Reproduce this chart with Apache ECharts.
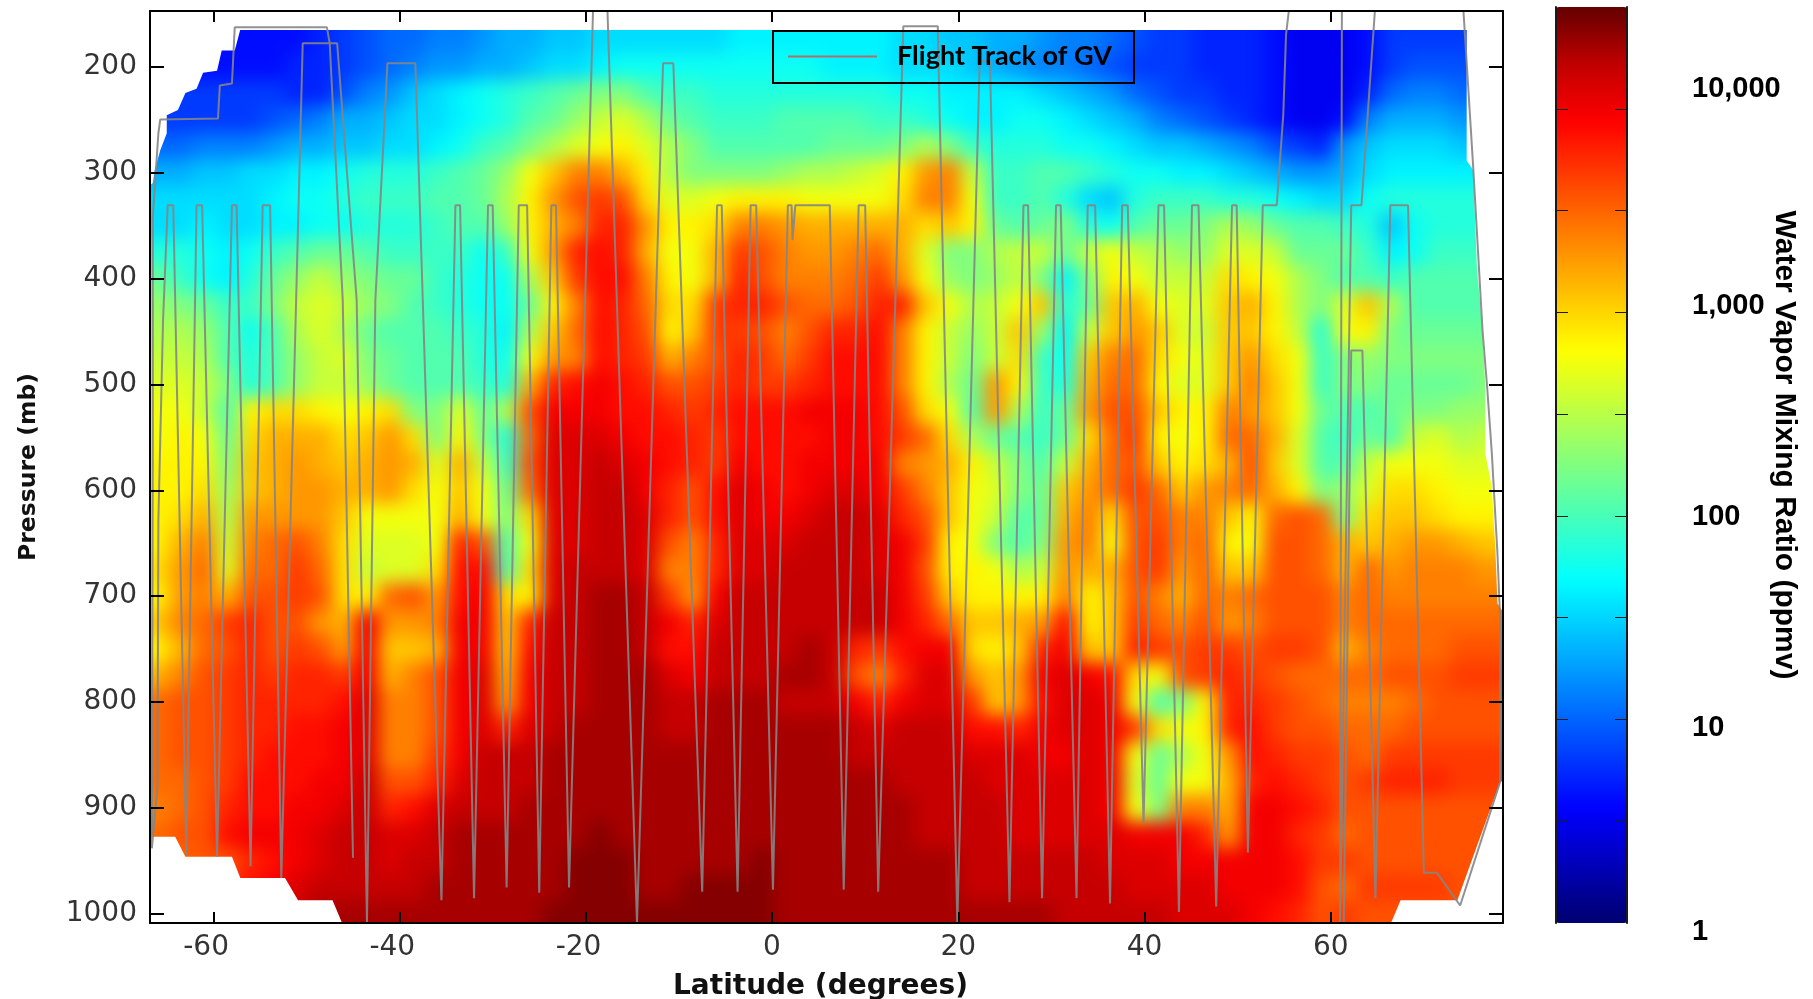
<!DOCTYPE html>
<html>
<head>
<meta charset="utf-8">
<title>Water Vapor Mixing Ratio</title>
<script src="https://cdn.jsdelivr.net/npm/echarts@6/dist/echarts.min.js"></script>
<style>
html, body { margin: 0; padding: 0; background: #fff; }
#main { width: 1813px; height: 999px; }
</style>
</head>
<body>
<div id="main"></div>
<script>
// cell centres of the curtain
var latCenters = [-66, -63.5, -61, -58.5, -56, -53.5, -51, -48.5, -46, -43.5,
	-41, -38.5, -36, -33.5, -31, -28.5, -26, -23.5, -21, -18.5,
	-16, -13.5, -11, -8.5, -6, -3.5, -1, 1.5, 4, 6.5,
	9, 11.5, 14, 16.5, 19, 21.5, 24, 26.5, 29, 31.5,
	34, 36.5, 39, 41.5, 44, 46.5, 49, 51.5, 54, 56.5,
	59, 61.5, 64, 66.5, 69, 71.5, 74, 76.5, 79];
var pressureLevels = [150, 175, 200, 225, 250, 275, 300, 325, 350, 375, 400, 425,
	450, 475, 500, 525, 550, 575, 600, 625, 650, 675, 700, 725, 750, 775, 800,
	825, 850, 875, 900, 925, 950, 975, 1000];

// 10*log10(ppmv), one row per pressure level
var mixRows = [
[6,6,6,6,6,6,6,7,8,9, 10,10,11,11,12,13,13,14,14,15, 15,15,15,15,15,16,16,16,16,16, 16,16,15,15,14,14,13,13,12,11, 11,10,9,8,8,7,7,7,6,5, 5,5,6,8,8,8,8,8,8],
[6,6,6,6,6,6,6,7,8,9, 10,10,11,11,12,13,13,14,14,15, 15,15,15,15,15,16,16,16,16,16, 16,16,15,15,14,14,13,13,12,11, 11,10,9,8,8,7,7,7,6,5, 5,5,6,8,8,8,8,8,8],
[6,6,6,6,6,6,7,7,8,9, 10,11,12,12,13,13,14,15,15,16, 17,17,17,17,17,17,17,17,17,16, 16,16,15,15,15,14,13,12,11,11, 10,9,8,8,8,7,7,7,6,5, 5,5,6,8,9,9,9,9,9],
[8,8,8,8,8,8,7,7,9,11, 12,14,15,16,17,18,19,20,21,22, 22,20,19,19,18,18,18,18,18,18, 18,18,17,17,16,16,16,16,15,14, 13,12,10,9,8,8,7,7,6,5, 5,5,7,10,11,11,10,10,10],
[8,8,8,8,8,9,10,11,13,13, 14,15,15,16,17,18,20,21,23,25, 26,24,21,20,19,19,19,20,20,20, 20,19,19,18,17,16,16,17,17,16, 15,14,13,11,10,9,8,7,6,5, 5,6,11,13,13,13,12,12,12],
[10,10,11,11,11,12,13,13,14,14, 15,15,16,17,19,20,22,24,26,27, 28,26,24,22,20,20,20,20,20,21, 21,21,22,24,22,19,18,18,18,17, 17,16,15,14,14,13,12,11,9,8, 7,12,14,15,15,15,14,14,14],
[13,13,14,14,15,15,16,16,17,18, 18,18,19,20,21,23,27,30,33,33, 31,28,24,22,22,22,22,23,24,24, 25,26,28,32,33,25,19,19,20,20, 19,18,17,17,16,16,15,14,13,12, 12,13,15,16,16,16,16,16,16],
[15,15,15,15,15,16,17,17,18,19, 19,19,20,20,21,24,28,32,35,36, 35,29,26,26,27,28,28,28,27,27, 27,27,29,33,33,27,19,19,20,18, 15,14,18,19,19,19,18,18,17,16, 15,15,17,18,18,18,18,18,18],
[15,15,16,15,15,16,16,17,17,18, 18,18,19,20,20,23,28,31,33,37, 37,32,28,28,29,33,33,32,31,31, 31,31,31,29,30,28,21,20,21,22, 18,17,20,21,21,22,24,23,21,20, 20,19,18,14,17,18,18,18,18],
[18,18,17,16,17,19,20,21,21,20, 19,19,19,19,17,19,27,32,37,38, 37,31,27,27,31,36,35,33,32,32, 33,34,31,26,22,22,24,25,25,21, 25,27,25,24,23,23,26,26,25,21, 21,21,19,16,17,19,19,19,19],
[21,19,17,16,18,21,23,25,23,22, 21,21,19,18,17,17,24,30,36,38, 38,33,28,27,31,37,35,33,33,33, 34,36,32,27,23,22,23,25,22,16, 22,28,27,25,25,25,29,28,27,24, 22,20,20,19,20,20,20,20,20],
[23,22,21,19,19,22,25,26,25,23, 22,20,19,18,17,17,21,28,33,38, 37,34,29,29,36,37,37,35,34,34, 35,37,37,30,27,24,25,27,30,18, 21,30,31,27,26,26,30,31,28,24, 22,26,30,24,20,20,20,20,20],
[24,24,23,20,17,20,24,26,24,21, 20,20,20,19,18,16,24,30,34,38, 37,35,28,30,36,36,35,33,35,37, 37,38,33,28,25,23,25,30,23,16, 25,30,32,30,26,25,30,30,28,25, 18,27,28,22,21,21,21,21,21],
[25,25,24,20,18,20,23,25,26,22, 21,20,20,20,18,17,27,32,33,38, 37,36,31,33,35,37,36,34,36,38, 38,38,33,28,25,22,25,29,19,17, 30,33,34,29,27,26,30,32,29,27, 19,22,23,22,22,22,22,22,22],
[26,26,25,22,18,20,23,25,25,23, 21,20,20,20,19,18,31,37,38,39, 38,37,35,35,36,37,36,36,37,38, 38,38,33,28,24,21,32,28,19,18, 31,34,34,28,26,26,30,33,30,27, 19,22,22,21,21,21,21,22,22],
[27,27,25,20,28,29,29,28,27,28, 29,22,22,26,21,24,35,39,39,39, 38,38,37,36,37,38,38,38,39,39, 39,38,35,29,27,20,32,24,19,21, 32,35,35,30,28,28,33,32,30,27, 21,20,20,21,22,22,23,23,23],
[27,28,27,21,29,31,31,31,29,30, 32,29,22,28,22,18,34,40,40,40, 39,38,38,37,36,38,38,38,38,39, 39,38,36,34,29,24,21,20,19,21, 29,34,36,28,27,28,34,34,31,26, 20,19,21,20,25,26,24,25,25],
[28,28,28,22,30,31,32,31,30,31, 32,31,26,31,25,19,35,40,40,41, 40,39,38,37,36,39,38,38,39,39, 39,39,33,32,31,28,25,22,20,25, 31,34,35,30,28,29,31,35,30,26, 20,20,25,27,27,27,26,26,26],
[28,28,29,23,30,31,32,32,31,31, 32,29,27,30,27,21,34,40,40,41, 41,39,37,35,38,40,39,38,39,40, 40,39,36,33,30,27,26,22,21,30, 32,34,36,34,30,32,33,34,31,28, 22,23,26,29,29,28,27,27,27],
[28,29,31,24,32,32,32,32,30,27, 27,27,27,31,27,22,29,40,40,41, 41,40,37,35,38,40,39,39,40,41, 41,40,37,35,30,27,25,20,21,31, 33,29,35,35,33,33,30,28,34,35, 34,22,29,30,30,29,28,28,28],
[28,31,33,25,33,34,35,33,29,26, 26,26,27,37,35,20,27,40,40,41, 41,40,35,33,37,40,40,40,41,41, 41,40,39,36,28,27,22,20,22,32, 33,27,35,36,33,34,28,27,35,35, 34,31,30,31,32,32,31,30,30],
[29,32,34,26,34,34,36,34,29,25, 26,26,29,38,38,20,29,40,41,41, 41,40,33,33,37,40,40,41,41,41, 41,40,39,35,28,28,27,24,25,32, 31,31,35,36,32,34,30,30,35,35, 34,31,34,32,33,33,33,32,32],
[28,32,33,31,35,35,36,35,29,28, 34,35,32,38,39,29,28,40,41,42, 42,41,36,32,39,41,41,41,41,41, 41,41,39,36,30,28,28,28,28,33, 28,30,35,33,31,34,33,34,35,35, 35,33,34,33,33,33,33,33,33],
[30,33,34,36,37,35,35,32,31,39, 32,32,33,39,39,30,37,41,41,42, 42,41,39,37,40,41,41,41,41,41, 41,41,39,37,34,30,30,31,32,38, 28,30,36,34,33,35,32,33,35,35, 35,33,34,34,34,34,34,34,34],
[28,31,34,35,37,35,36,35,32,39, 30,30,31,39,39,30,38,41,41,42, 42,41,38,38,41,41,41,41,42,41, 37,36,38,39,39,29,28,30,37,39, 30,30,37,36,35,36,36,35,36,36, 35,31,33,34,34,34,35,35,35],
[31,33,35,36,37,36,37,37,36,39, 31,33,35,39,40,31,39,41,41,42, 42,42,40,39,41,41,41,42,42,41, 35,33,37,40,40,32,30,32,39,40, 39,38,29,27,35,36,37,36,35,34, 34,34,34,35,35,35,36,36,36],
[34,35,35,36,37,37,37,37,38,40, 33,33,35,39,40,32,39,41,41,42, 42,42,41,41,42,42,42,41,41,41, 39,37,39,40,40,36,30,32,38,40, 40,39,27,20,22,28,37,37,36,35, 34,33,33,33,34,35,35,35,35],
[34,35,35,36,37,37,38,38,39,40, 33,33,35,39,40,37,40,41,42,42, 42,42,41,41,42,42,42,42,42,42, 41,40,41,41,41,38,38,37,39,40, 40,39,36,29,27,28,37,38,36,35, 35,34,34,34,35,35,35,35,35],
[34,35,35,36,37,38,38,38,39,40, 33,33,36,39,41,41,41,42,42,42, 42,42,42,42,42,42,42,42,42,42, 41,41,41,41,41,40,40,40,39,39, 40,39,27,21,24,27,32,38,37,36, 36,35,34,36,36,36,36,36,36],
[34,34,35,36,38,38,38,39,39,41, 35,35,37,40,41,41,41,42,42,42, 42,42,42,42,42,42,42,42,42,42, 42,42,41,41,41,41,40,40,40,40, 40,39,26,21,27,27,31,37,38,37, 36,35,36,37,37,37,36,36,36],
[33,34,35,37,38,38,39,39,40,41, 37,38,40,41,41,41,42,42,42,42, 42,42,42,42,42,42,42,42,42,42, 42,42,42,41,41,41,41,40,40,40, 40,39,27,22,33,33,31,39,39,38, 37,35,35,35,35,35,35,35,35],
[34,35,35,38,39,39,39,40,41,41, 40,40,41,42,42,42,42,42,42,43, 42,42,42,42,42,42,42,42,42,42, 42,42,42,41,41,41,41,40,40,40, 40,40,39,39,39,37,32,39,39,37, 36,34,35,35,35,35,35,35,35],
[34,34,35,35,37,38,39,40,41,41, 40,41,41,42,42,42,42,42,43,43, 43,42,42,42,42,42,43,42,42,42, 42,42,42,42,42,41,41,41,41,41, 41,40,40,40,39,39,39,39,39,38, 36,36,35,35,35,35,35,35,35],
[34,34,35,36,38,39,40,41,41,41, 41,41,42,42,42,42,42,42,43,43, 43,42,42,43,43,43,43,42,42,42, 42,42,42,42,42,41,41,41,41,41, 41,41,40,40,40,40,39,39,39,38, 35,34,36,36,36,36,35,35,35],
[35,35,36,37,39,40,41,42,42,42, 42,42,42,42,42,42,42,43,43,43, 43,43,43,43,43,43,43,42,42,42, 42,42,42,42,42,42,42,42,42,41, 41,41,41,41,40,40,40,39,38,37, 35,36,35,35,35,35,35,35,35]
];

// GV flight track, lat and pressure, null breaks between the legs
var trackLat = [-66.6, -66, -65.9, -65.4, -64.9, -64.3, -62.9, -61.8, -61.2, -59.6, -58, -57.5, -56, -54.7, -53.9, -52.7,
	-50.4, -46.7, -44.6, -43.5, -42.6, -41.3, -38.3, -35.5, -34, -33.5, -32, -30.5, -30, -28.5, -27.2, -26.3, -25, -23.7, -23.2, -21.8,
	-19.2, -17.7, -14.5, -11.7, -10.6, -7.5, -5.9, -5.4, -3.7, -2.3, -1.7, 0.1, 1.7, 2.1, 2.2, 2.5, 6.2, 7.7, 9.3, 10, 11.4,
	14.1, 17.8, 19.9, 22.3, 23.4, 25.5, 27, 27.5, 29, 30.5, 31, 32.7, 33.9, 34.7, 36.3, 37.6, 38.2, 39.9, 41.5, 42.1, 43.7, 45.1, 45.8, 47.7, 49.4, 49.9, 51.1,
	52.7, 54.2, 54.9, 55.2, 55.6, 61.2, 61, 62.2, 63.3, 64.8, 74.2, 75.3, 76.3, 76.8, 77.3, 77.9, 78.2, 78.2, 73.9, 71.4, 70, 68.3, 66.4, 64.8, 63.4, 62.2, 61.4,
	null,
	-66.6, -66.5, -66.5, -65.9, -65.7, -59.5, -59.3, -58, -57.7, -47.8, -47.5, -46.1, -45];
var trackP = [938, 880, 628, 440, 331, 331, 944, 331, 331, 946, 331, 331, 955, 331, 331, 966,
	178, 178, 421, 1008, 421, 197, 197, 987, 331, 331, 985, 331, 331, 975, 331, 331, 980, 331, 331, 975,
	140, 140, 1008, 197, 197, 979, 331, 331, 979, 331, 331, 977, 331, 331, 364, 331, 331, 977, 331, 331, 979,
	162, 162, 1008, 195, 195, 989, 331, 331, 985, 331, 331, 985, 331, 331, 990, 331, 331, 914, 331, 331, 998, 331, 331, 993, 331, 331, 942,
	331, 331, 246, 170, 140, 140, 1008, 331, 331, 140, 140, 295, 449, 503, 565, 659, 723, 875, 992, 961, 961, 331, 331, 985, 468, 468, 1008,
	null,
	938, 560, 342, 263, 250, 249, 218, 216, 163, 163, 178, 421, 947];

// outline of the area with no measurements
var noDataTop = [[-68, 146], [80, 146], [80, 165.5], [-68, 165.5]];
var noDataLeft = [[-68, 165], [-57.1, 165], [-57.7, 185], [-59.1, 185], [-59.6, 204], [-61.1, 206], [-61.8, 221], [-63, 225], [-63.8, 241], [-65, 246], [-65, 263], [-65.7, 279], [-66.3, 298], [-66.5, 310], [-68, 320]];
var noDataRight = [[74.6, 165], [74.6, 289], [75.3, 298], [75.7, 390], [76.3, 449], [76.6, 503], [76.6, 565], [77.3, 597], [77.7, 659], [77.9, 707], [78.6, 716], [80, 716], [80, 165]];
var noDataFootLeft = [[-68, 927], [-64.1, 927], [-63, 946], [-58, 946], [-57.1, 966], [-52.3, 966], [-50.9, 987], [-47.2, 987], [-46.1, 1010], [-68, 1010]];
var noDataFootRight = [[66.4, 1010], [67.5, 987], [73.6, 987], [78.2, 875], [80, 875], [80, 1010]];
var noDataAreas = [noDataTop, noDataLeft, noDataRight, noDataFootLeft, noDataFootRight];

var latTicks = [-60, -40, -20, 0, 20, 40, 60];
var pressureTicks = [200, 300, 400, 500, 600, 700, 800, 900, 1000];
var colorbarTicks = [1, 2, 3, 4, 5, 6, 7, 8];
var colorLabels = ['1', '10', '100', '1,000', '10,000'];
var colorLabelPos = [0, 0.97, 1.97, 2.97, 4];
var jet = ['#000070', '#0000b8', '#0000ff', '#0040ff', '#0080ff', '#00c0ff', '#00ffff', '#40ffc0', '#80ff80',
	'#c0ff40', '#ffff00', '#ffc000', '#ff8000', '#ff4000', '#ff0000', '#c00000', '#640000'];

var cellData = [];
for (var r = 0; r < pressureLevels.length; r++) {
	for (var c = 0; c < latCenters.length; c++) {
		cellData.push([latCenters[c], pressureLevels[r], mixRows[r][c]]);
	}
}
var trackData = [];
for (var t = 0; t < trackLat.length; t++) {
	trackData.push(trackLat[t] === null ? ['-', '-'] : [trackLat[t], trackP[t]]);
}

function renderCell(params, api) {
	var lat = api.value(0), p = api.value(1);
	// edge cells run past the frame so the soft layer does not fade there
	var west = lat - 1.25 - (lat === latCenters[0] ? 6 : 0);
	var east = lat + 1.25 + (lat === latCenters[latCenters.length - 1] ? 6 : 0);
	var south = p + 12.5 + (p === 1000 ? 50 : 0);
	var a = api.coord([west, p - 12.5]);
	var b = api.coord([east, south]);
	return {
		type : 'rect',
		shape : { x : a[0], y : a[1], width : b[0] - a[0] + 1, height : b[1] - a[1] + 1 },
		style : { fill : api.visual('color') }
	};
}

function renderNoData(params, api) {
	return {
		type : 'polygon',
		shape : { points : noDataAreas[params.dataIndex].map(function(pt) { return api.coord(pt); }) },
		style : { fill : '#ffffff' }
	};
}

var tickFont = { color : '#333', fontFamily : 'DejaVu Sans', fontSize : 28 };
function plain(v) { return String(v); }
// the minus sign hangs left of the tick in the original
function latLabel(v) { return v < 0 ? v + '\u00a0\u2009' : String(v); }

var option = {
	animation : false,
	backgroundColor : '#fff',
	grid : [
		{ left : 150, top : 11, width : 1353, height : 912, outerBoundsMode : 'none' },
		{ left : 1556, top : 7, width : 71, height : 916, outerBoundsMode : 'none' },
		{ left : 1556, top : 89, width : 71, height : 843, outerBoundsMode : 'none' }
	],
	xAxis : [ {
		gridIndex : 0, type : 'value', position : 'bottom', min : -66.8, max : 78.5, z : 5,
		name : 'Latitude (degrees)', nameLocation : 'middle', nameGap : 50,
		nameTextStyle : { fontFamily : 'DejaVu Sans', fontWeight : 'bold', fontSize : 28, color : '#111', padding : [0, 12, 0, 0] },
		axisLine : { onZero : false, lineStyle : { color : '#000', width : 2 } },
		axisTick : { inside : true, length : 11, customValues : latTicks, lineStyle : { color : '#000', width : 2 } },
		axisLabel : { customValues : latTicks, formatter : latLabel, margin : 11, color : tickFont.color, fontFamily : tickFont.fontFamily, fontSize : tickFont.fontSize },
		splitLine : { show : false }
	}, {
		gridIndex : 0, type : 'value', position : 'top', min : -66.8, max : 78.5, z : 5,
		axisLine : { onZero : false, lineStyle : { color : '#000', width : 2 } },
		axisTick : { inside : true, length : 11, customValues : latTicks, lineStyle : { color : '#000', width : 2 } },
		axisLabel : { show : false },
		splitLine : { show : false }
	}, {
		gridIndex : 1, type : 'value', show : false, min : 0, max : 1
	}, {
		gridIndex : 2, type : 'value', show : false, min : 0, max : 1
	} ],
	yAxis : [ {
		gridIndex : 0, type : 'value', position : 'left', inverse : true, min : 147.6, max : 1008.5, z : 5,
		name : 'Pressure (mb)', nameLocation : 'middle', nameGap : 109,
		nameTextStyle : { fontFamily : 'DejaVu Sans', fontWeight : 'bold', fontSize : 23.5, color : '#111' },
		axisLine : { onZero : false, lineStyle : { color : '#000', width : 2 } },
		axisTick : { inside : true, length : 14, customValues : pressureTicks, lineStyle : { color : '#000', width : 2 } },
		axisLabel : { customValues : pressureTicks, formatter : plain, margin : 13, color : tickFont.color, fontFamily : tickFont.fontFamily, fontSize : tickFont.fontSize },
		splitLine : { show : false }
	}, {
		gridIndex : 0, type : 'value', position : 'right', inverse : true, min : 147.6, max : 1008.5, z : 5,
		axisLine : { onZero : false, lineStyle : { color : '#000', width : 2 } },
		axisTick : { inside : true, length : 14, customValues : pressureTicks, lineStyle : { color : '#000', width : 2 } },
		axisLabel : { show : false },
		splitLine : { show : false }
	}, {
		gridIndex : 1, type : 'value', position : 'left', min : 0, max : 9, z : 5,
		axisLine : { onZero : false, lineStyle : { color : '#1a1a1a', width : 2 } },
		axisTick : { inside : true, length : 12, customValues : colorbarTicks, lineStyle : { color : '#1a1a1a', width : 1 } },
		axisLabel : { show : false },
		splitLine : { show : false }
	}, {
		gridIndex : 1, type : 'value', position : 'right', min : 0, max : 9, z : 5,
		axisLine : { onZero : false, lineStyle : { color : '#1a1a1a', width : 2 } },
		axisTick : { inside : true, length : 12, customValues : colorbarTicks, lineStyle : { color : '#1a1a1a', width : 1 } },
		axisLabel : { show : false },
		splitLine : { show : false }
	}, {
		gridIndex : 2, type : 'value', position : 'right', min : 0, max : 4, z : 5,
		axisLine : { show : false },
		axisTick : { show : false },
		axisLabel : {
			customValues : colorLabelPos, align : 'left', margin : 65,
			formatter : function(v, i) { return colorLabels[colorLabelPos.indexOf(v)]; },
			color : '#000', fontFamily : 'Liberation Sans', fontWeight : 'bold', fontSize : 29
		},
		splitLine : { show : false }
	} ],
	visualMap : {
		type : 'continuous', seriesIndex : 0, dimension : 2, min : 0, max : 44,
		left : 1556, top : 7, itemWidth : 71, itemHeight : 916, padding : 0,
		calculable : false, hoverLink : false, text : null, showLabel : false,
		inRange : { color : jet }
	},
	legend : {
		left : 773, top : 31, padding : [12, 22, 13, 15], itemWidth : 89, itemHeight : 27,
		borderColor : '#000', borderWidth : 2, borderRadius : 0,
		data : [ { name : 'Flight Track of GV', icon : 'path://M0,12H89V14H0Z', itemStyle : { color : '#b06e6c' } } ],
		textStyle : { color : '#000', fontFamily : 'Lato', fontWeight : 'bold', fontSize : 27, padding : [0, 0, 0, 15] },
		selectedMode : false
	},
	graphic : [ {
		type : 'text', x : 1784, y : 445, rotation : -Math.PI / 2,
		style : { text : 'Water Vapor Mixing Ratio (ppmv)', fill : '#000', font : 'bold 30px "Liberation Sans"', textAlign : 'center', textVerticalAlign : 'middle' }
	} ],
	series : [ {
		name : 'mixing ratio', type : 'custom', xAxisIndex : 0, yAxisIndex : 0, zlevel : -1,
		silent : true, clip : false, encode : { x : 0, y : 1 },
		renderItem : renderCell, data : cellData
	}, {
		name : 'no data', type : 'custom', xAxisIndex : 0, yAxisIndex : 0,
		silent : true, clip : true, encode : { x : 0 }, z : 1,
		renderItem : renderNoData, data : [[0], [1], [2], [3], [4]]
	}, {
		name : 'Flight Track of GV', type : 'line', xAxisIndex : 0, yAxisIndex : 0, z : 3,
		showSymbol : false, symbol : 'none', silent : true, clip : true, connectNulls : false,
		itemStyle : { color : '#858585' },
		lineStyle : { color : '#858585', width : 2, opacity : 0.9 },
		data : trackData
	} ]
};

var myChart = echarts.init(document.getElementById('main'));
myChart.setOption(option);

// the curtain sits on its own canvas: soften it and cut it back to the frame
var heatCanvas = document.querySelector('#main canvas');
heatCanvas.style.filter = 'blur(9px)';
heatCanvas.style.clipPath = 'inset(12px 311px 77px 151px)';
</script>
</body>
</html>
